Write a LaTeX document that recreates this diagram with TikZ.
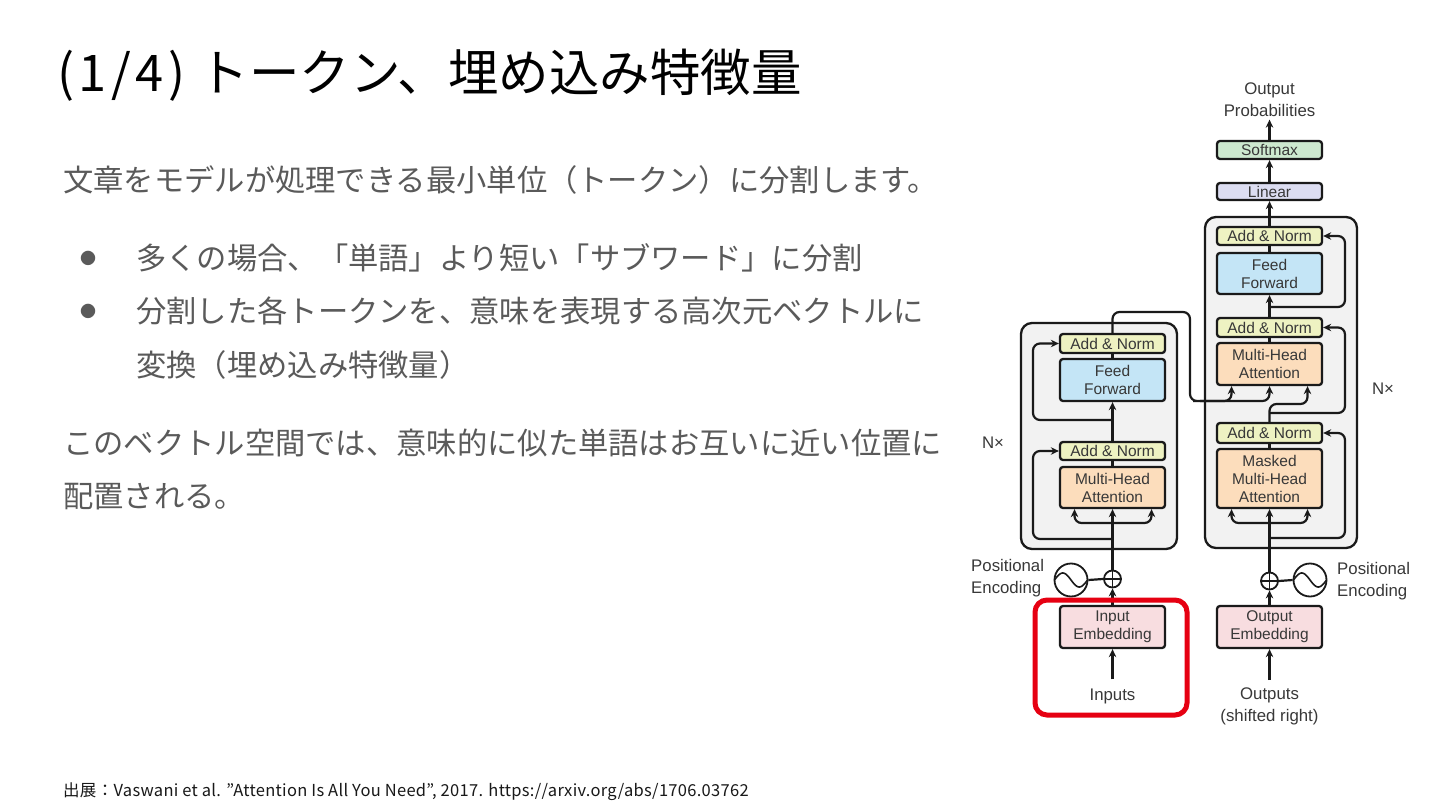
\documentclass[tikz,border=0pt]{standalone}
\usepackage{fontspec}
\usetikzlibrary{arrows.meta}
\newfontfamily\jpfont{Noto Sans CJK JP}
\newfontfamily\titlelatin[LetterSpace=9]{Noto Sans CJK JP}
\newfontfamily\citefont[LetterSpace=1.8]{Noto Sans CJK JP}
\newfontfamily\diagfont{Liberation Sans}
\definecolor{anC}{HTML}{EEF2C2}
\definecolor{ffC}{HTML}{C4E5F6}
\definecolor{mhC}{HTML}{FCDDBC}
\definecolor{emC}{HTML}{F8DDE0}
\definecolor{liC}{HTML}{DCDDF1}
\definecolor{smC}{HTML}{CDE9CF}
\definecolor{grayC}{HTML}{F2F2F2}
\definecolor{bodyC}{HTML}{5A5A5A}
\definecolor{lineC}{HTML}{1A1A1A}
\definecolor{redC}{HTML}{E60012}
\begin{document}
\begin{tikzpicture}[x=1pt,y=-1pt,
  blk/.style={draw=lineC, line width=2.3pt, rounded corners=3pt, minimum width=105pt, inner sep=0pt, align=center, font=\diagfont\fontsize{15.5}{18}\selectfont, text=black!78},
  conn/.style={draw=lineC, line width=2.2pt},
  arr/.style={conn, -{Stealth[length=8pt,width=7.5pt]}},
  rnd/.style={rounded corners=7pt},
  lbl/.style={font=\diagfont\fontsize{16.8}{22}\selectfont, text=black!78, align=center, inner sep=0pt},
  stack/.style={draw=lineC, line width=2.3pt, rounded corners=11pt, fill=grayC},
  body/.style={font=\jpfont\fontsize{30.3}{36}\selectfont, text=bodyC, anchor=west, inner sep=0pt},
  pluscirc/.style={circle, draw=lineC, line width=1.8pt, minimum size=17pt, inner sep=0pt, fill=white},
  sinecirc/.style={circle, draw=lineC, line width=1.8pt, minimum size=33pt, inner sep=0pt},
]
\useasboundingbox (0,0) rectangle (1440,810);
\fill[white] (0,0) rectangle (1440,810);

% ---------- left text ----------
\node[font=\jpfont\fontsize{50.5}{60}\selectfont, anchor=west, inner sep=0pt, text=black] (title) at (57,75) {{\titlelatin (1/4)}\hspace{2pt} トークン、埋め込み特徴量};
\node[body] (p1) at (63,180) {文章をモデルが処理できる最小単位（トークン）に分割します。};
\node[font=\jpfont\fontsize{16}{20}\selectfont, text=bodyC, inner sep=0pt] (b1) at (88,258) {●};
\node[body] (l1) at (136,258) {多くの場合、「単語」より短い「サブワード」に分割};
\node[font=\jpfont\fontsize{16}{20}\selectfont, text=bodyC, inner sep=0pt] (b2) at (88,311) {●};
\node[body] (l2) at (136,311) {分割した各トークンを、意味を表現する高次元ベクトルに};
\node[body] (l3) at (136,365) {変換（埋め込み特徴量）};
\node[body] (p2) at (63,443) {このベクトル空間では、意味的に似た単語はお互いに近い位置に};
\node[body] (p3) at (63,497) {配置される。};
\node[font=\citefont\fontsize{16.5}{18}\selectfont, anchor=west, inner sep=0pt, text=black!90] (cite) at (63,792) {出展：Vaswani et al. ”Attention Is All You Need”, 2017. https://arxiv.org/abs/1706.03762};

% ---------- stacks ----------
\draw[stack] (1021,323) rectangle (1177,549);
\draw[stack] (1205,217) rectangle (1357,548);

% ---------- encoder ----------
\node[blk, fill=anC, minimum height=19pt] (eAN2) at (1112.5,343.5) {Add \& Norm};
\node[blk, fill=ffC, minimum height=42pt] (eFF) at (1112.5,380) {Feed\\Forward};
\node[blk, fill=anC, minimum height=18pt] (eAN1) at (1112.5,451) {Add \& Norm};
\node[blk, fill=mhC, minimum height=41pt] (eMHA) at (1112.5,487.5) {Multi-Head\\Attention};
\node[blk, fill=emC, minimum height=42pt] (eEmb) at (1112.5,627) {Input\\Embedding};
\node[pluscirc] (ePlus) at (1112.5,579) {};
\node[sinecirc] (eSin) at (1071,580) {};
\node[lbl, align=left, anchor=west] (ePE) at (971,578) {Positional\\Encoding};
\node[lbl] (eN) at (993,443) {N×};
\node[lbl] (inp) at (1112.5,696) {Inputs};

% ---------- decoder ----------
\node[blk, fill=smC, minimum height=18pt] (soft) at (1269.5,150) {Softmax};
\node[blk, fill=liC, minimum height=17pt] (lin) at (1269.5,191.5) {Linear};
\node[blk, fill=anC, minimum height=18pt] (dAN3) at (1269.5,236) {Add \& Norm};
\node[blk, fill=ffC, minimum height=41pt] (dFF) at (1269.5,273.5) {Feed\\Forward};
\node[blk, fill=anC, minimum height=19pt] (dAN2) at (1269.5,327.5) {Add \& Norm};
\node[blk, fill=mhC, minimum height=42pt] (dMHA) at (1269.5,364) {Multi-Head\\Attention};
\node[blk, fill=anC, minimum height=20pt] (dAN1) at (1269.5,433) {Add \& Norm};
\node[blk, fill=mhC, minimum height=59pt] (dMMHA) at (1269.5,478.5) {Masked\\Multi-Head\\Attention};
\node[blk, fill=emC, minimum height=42pt] (dEmb) at (1269.5,627) {Output\\Embedding};
\node[pluscirc] (dPlus) at (1269.5,581) {};
\node[sinecirc] (dSin) at (1310,580) {};
\node[lbl, align=left, anchor=west] (dPE) at (1337,581) {Positional\\Encoding};
\node[lbl] (dN) at (1383,389) {N×};
\node[lbl] (outs) at (1269.5,706) {Outputs\\(shifted right)};
\node[lbl] (outP) at (1269.5,99.5) {Output\\Probabilities};

% plus and sine glyphs
\foreach \p in {ePlus,dPlus}{
  \draw[lineC, line width=1.6pt] (\p.north) -- (\p.south) (\p.west) -- (\p.east);
}
\foreach \s in {eSin,dSin}{
  \draw[lineC, line width=1.6pt, shift={(\s.center)}] plot[domain=-16.5:16.5, samples=40, smooth] (\x, {7*sin(\x/16.5*180)});
}
\draw[conn] (eSin.east) -- (ePlus.west);
\draw[conn] (dPlus.east) -- (dSin.west);

% ---------- encoder connectors ----------
\coordinate (eLx) at (1033,0);
\draw[arr] ([yshift=9pt]inp.north) -- (eEmb.south);
\draw[arr] (eEmb.north) -- (ePlus.south);
\draw[arr] (ePlus.north) -- (eMHA.south);
\coordinate (eBr) at (1112.5,523);
\draw[arr,rnd] (eBr) -| ([xshift=-38pt]eMHA.south);
\draw[arr,rnd] (eBr) -| ([xshift=39pt]eMHA.south);
\coordinate (eR1) at (1112.5,539);
\draw[arr,rnd] (eR1) -| (eAN1.west -| eLx) -- (eAN1.west);
\draw[conn] (eMHA.north) -- (eAN1.south);
\draw[arr] (eAN1.north) -- (eFF.south);
\coordinate (eR2) at (1112.5,420);
\draw[arr,rnd] (eR2) -| (eAN2.west -| eLx) -- (eAN2.west);
\draw[conn] (eFF.north) -- (eAN2.south);
\coordinate (eo1) at (1190,312);
\coordinate (eo2) at (1200,401);
\draw[arr,rnd] (eAN2.north) |- (eo1) |- (eo2) -| ([xshift=-38pt]dMHA.south);
\draw[arr,rnd] (eo2) -| (dMHA.south);

% ---------- decoder connectors ----------
\coordinate (dRx) at (1345,0);
\draw[arr] ([yshift=7pt]outs.north) -- (dEmb.south);
\draw[arr] (dEmb.north) -- (dPlus.south);
\draw[arr] (dPlus.north) -- (dMMHA.south);
\coordinate (dBr) at (1269.5,523);
\draw[arr,rnd] (dBr) -| ([xshift=-38pt]dMMHA.south);
\draw[arr,rnd] (dBr) -| ([xshift=38pt]dMMHA.south);
\coordinate (dR1) at (1269.5,538);
\draw[arr,rnd] (dR1) -| (dAN1.east -| dRx) -- (dAN1.east);
\draw[conn] (dMMHA.north) -- (dAN1.south);
\coordinate (dQ) at (1290,404);
\draw[arr,rnd] (dAN1.north) |- (dQ) -| ([xshift=38pt]dMHA.south);
\coordinate (dR2) at (1269.5,413);
\draw[arr,rnd] (dR2) -| (dAN2.east -| dRx) -- (dAN2.east);
\draw[conn] (dMHA.north) -- (dAN2.south);
\draw[arr] (dAN2.north) -- (dFF.south);
\coordinate (dR3) at (1269.5,307);
\draw[arr,rnd] (dR3) -| (dAN3.east -| dRx) -- (dAN3.east);
\draw[conn] (dFF.north) -- (dAN3.south);
\draw[arr] (dAN3.north) -- (lin.south);
\draw[arr] (lin.north) -- (soft.south);
\draw[arr] (soft.north) -- ([yshift=-3pt]outP.south);

% ---------- highlight ----------
\draw[redC, line width=5pt, rounded corners=12pt] (1035,600) rectangle (1187,715);
\end{tikzpicture}
\end{document}
